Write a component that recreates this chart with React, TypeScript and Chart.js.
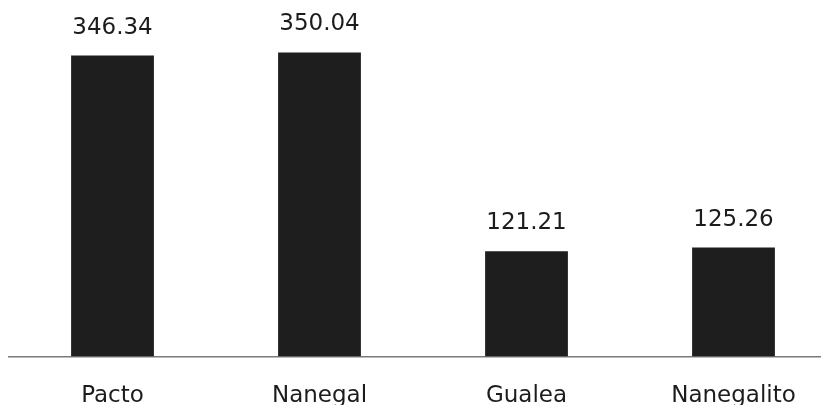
import React, { useEffect, useRef } from "react";
import { Chart, registerables } from "chart.js";

Chart.register(...registerables);

const categories: string[] = ["Pacto", "Nanegal", "Gualea", "Nanegalito"];
const values: number[] = [346.34, 350.04, 121.21, 125.26];
const valueLabels: string[] = ["346.34", "350.04", "121.21", "125.26"];

const FONT = "'DejaVu Sans', sans-serif";
const TEXT = "#1c1c1c";

const valueLabelPlugin = {
  id: "valueLabels",
  afterDatasetsDraw(chart: any) {
    const ctx = chart.ctx;
    const meta = chart.getDatasetMeta(0);
    ctx.save();
    ctx.font = `23px ${FONT}`;
    ctx.fillStyle = TEXT;
    ctx.textAlign = "center";
    ctx.textBaseline = "alphabetic";
    meta.data.forEach((bar: any, i: number) => {
      ctx.fillText(valueLabels[i], bar.x, bar.y - 22);
    });
    ctx.restore();
  },
};

export default function App() {
  const ref = useRef<HTMLCanvasElement | null>(null);
  useEffect(() => {
    if (!ref.current) return;
    const chart = new Chart(ref.current, {
      type: "bar",
      data: {
        labels: categories,
        datasets: [
          {
            data: values,
            backgroundColor: "#1e1e1e",
            borderWidth: 0,
            categoryPercentage: 1,
            barPercentage: 0.4,
          },
        ],
      },
      options: {
        responsive: false,
        animation: false,
        layout: { padding: { top: 9, left: 9, right: 8, bottom: 0 } },
        plugins: { legend: { display: false }, tooltip: { enabled: false } },
        scales: {
          x: {
            grid: { display: false, drawTicks: false },
            border: { display: true, color: "#7a7a7a", width: 1.5 },
            ticks: {
              color: TEXT,
              font: { family: FONT, size: 23 },
              padding: 26,
              maxRotation: 0,
            },
          },
          y: {
            display: false,
            min: 0,
            max: 400,
          },
        },
      },
      plugins: [valueLabelPlugin],
    });
    return () => chart.destroy();
  }, []);
  return (
    <div
      style={{
        position: "fixed",
        left: 0,
        top: 0,
        width: 821,
        height: 405,
        overflow: "hidden",
        background: "#fff",
      }}
    >
      <canvas ref={ref} width={845} height={436} style={{ display: "block" }} />
    </div>
  );
}
